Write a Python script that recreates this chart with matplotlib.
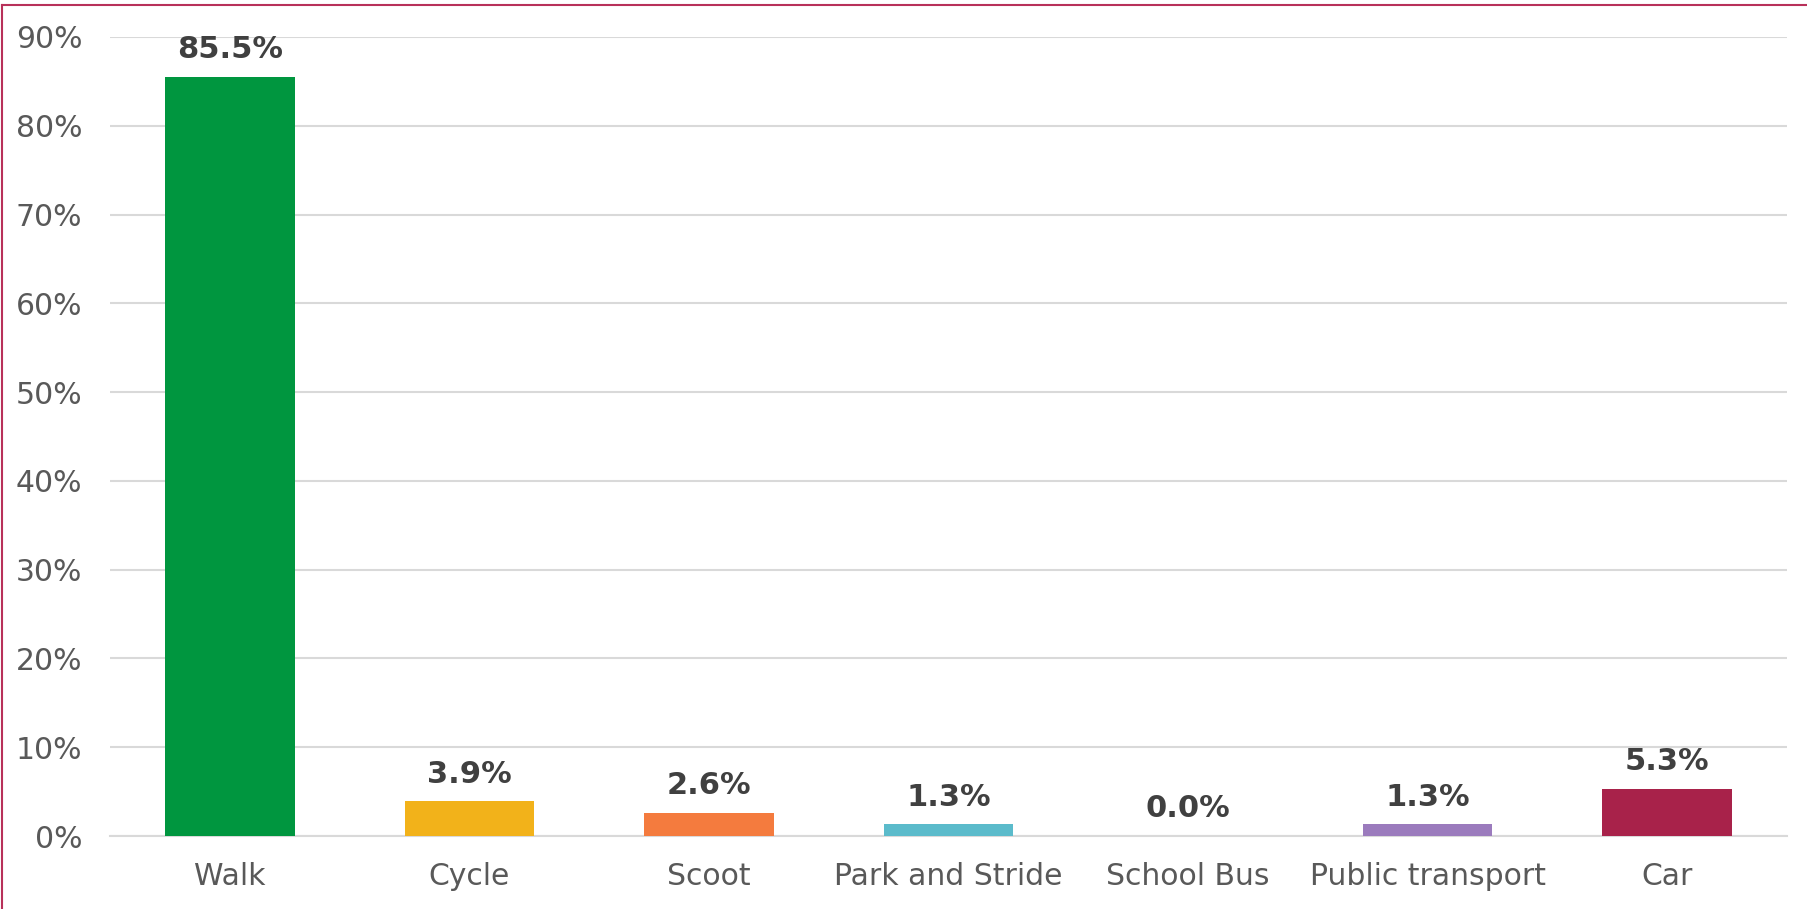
import matplotlib
matplotlib.use("Agg")
import matplotlib.pyplot as plt
from matplotlib.lines import Line2D
from matplotlib.ticker import FuncFormatter

categories = ["Walk", "Cycle", "Scoot", "Park and Stride", "School Bus",
              "Public transport", "Car"]
values = [85.5, 3.9, 2.6, 1.3, 0.0, 1.3, 5.3]
colors = ["#00963F", "#F2B21A", "#F47B3E", "#5BBBCB", "#8DB63C", "#9B7BBD", "#A8224A"]
yticks = list(range(0, 91, 10))

plt.rcParams["font.family"] = ["DejaVu Sans"]

fig = plt.figure(figsize=(18.07, 9.09), dpi=100)
ax = fig.add_axes([0.0609, 0.0803, 0.9280, 0.8790])

x = list(range(len(categories)))
bars = ax.bar(x, values, width=0.54, color=colors, zorder=3)

ax.set_xlim(-0.5, len(categories) - 0.5)
ax.set_ylim(0, 90)
ax.set_yticks(yticks)
ax.yaxis.set_major_formatter(FuncFormatter(lambda v, p: f"{v:.0f}%"))
ax.set_xticks(x)
ax.set_xticklabels(categories)

ax.grid(axis="y", color="#D9D9D9", linewidth=1.5, zorder=0)
for s in ["top", "right", "left"]:
    ax.spines[s].set_visible(False)
ax.spines["bottom"].set_color("#D9D9D9")
ax.spines["bottom"].set_linewidth(1.5)

ax.tick_params(axis="y", length=0, pad=20, labelsize=21.5, labelcolor="#595959")
ax.tick_params(axis="x", length=0, pad=19, labelsize=21.5, labelcolor="#595959")

for b, v in zip(bars, values):
    ax.annotate(f"{v:.1f}%", (b.get_x() + b.get_width() / 2, v),
                xytext=(0, 13.5), textcoords="offset points",
                ha="center", va="baseline", fontsize=22,
                fontweight="bold", color="#404040")

# border of the chart area (top and left edges visible)
border = "#B8315A"
fig.add_artist(Line2D([0.0011, 1.0], [0.9945, 0.9945], color=border, lw=1.5,
                      transform=fig.transFigure))
fig.add_artist(Line2D([0.0011, 0.0011], [0.0, 0.9945], color=border, lw=1.5,
                      transform=fig.transFigure))

fig.savefig("out.png", dpi=100)
